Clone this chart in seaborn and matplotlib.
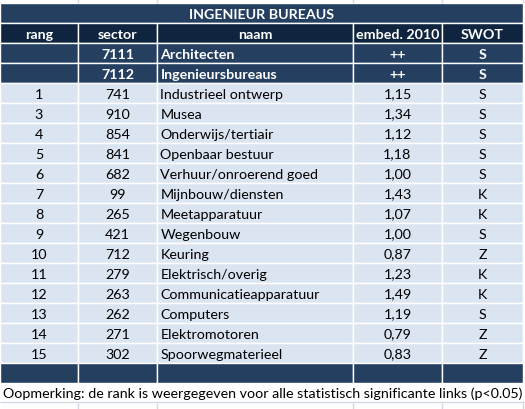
import matplotlib
matplotlib.use("Agg")
import matplotlib.pyplot as plt
import seaborn as sns

# table contents
title = "INGENIEUR BUREAUS"
headers = ["rang", "sector", "naam", "embed. 2010", "SWOT"]

top_sector = ["7111", "7112"]
top_naam = ["Architecten", "Ingenieursbureaus"]
top_embed = ["++", "++"]
top_swot = ["S", "S"]

rang = ["1", "3", "4", "5", "6", "7", "8", "9", "10", "11", "12", "13", "14", "15"]
sector = ["741", "910", "854", "841", "682", "99", "265", "421", "712", "279", "263", "262", "271", "302"]
naam = ["Industrieel ontwerp", "Musea", "Onderwijs/tertiair", "Openbaar bestuur",
        "Verhuur/onroerend goed", "Mijnbouw/diensten", "Meetapparatuur", "Wegenbouw",
        "Keuring", "Elektrisch/overig", "Communicatieapparatuur", "Computers",
        "Elektromotoren", "Spoorwegmaterieel"]
embed = ["1,15", "1,34", "1,12", "1,18", "1,00", "1,43", "1,07", "1,00",
         "0,87", "1,23", "1,49", "1,19", "0,79", "0,83"]
swot = ["S", "S", "S", "S", "S", "K", "K", "S", "Z", "K", "K", "S", "Z", "Z"]

note = "Oopmerking: de rank is weergegeven voor alle statistisch significante links (p<0.05)"

# layout / style
col_edges = [0, 78, 157, 353, 442, 523]
lefts = col_edges[:-1]
widths = [b - a for a, b in zip(col_edges[:-1], col_edges[1:])]
centers = [(a + b) / 2 for a, b in zip(col_edges[:-1], col_edges[1:])]
dark = "#243F60"
darker = "#0F243E"
light = "#DBE5F1"
grid = "#D0D7E5"
fs = 10.3

sns.set_theme(style="white")
plt.rcParams["font.family"] = ["Lato", "DejaVu Sans"]

fig = plt.figure(figsize=(5.25, 4.10), dpi=100)
ax = fig.add_axes([0, 0, 1, 1])
ax.set_xlim(0, 525)
ax.set_ylim(19.8, -0.7)
ax.axis("off")

# faint sheet gridlines above and below the table
ax.vlines(col_edges[1:], -0.7, -0.5, color=grid, lw=1)
ax.vlines(col_edges[1:], 19.5, 19.8, color=grid, lw=1)
ax.hlines(19.45, 0, 525, color=grid, lw=1)

# title row
ax.barh(0, col_edges[-1], left=0, height=1, color=dark, edgecolor="white", lw=1)
ax.text(col_edges[-1] / 2, 0.03, title, ha="center", va="center", color="white",
        fontsize=fs, fontweight="bold")

# header row
ax.barh([1] * 5, widths, left=lefts, height=1, color=darker, edgecolor="white", lw=1)
for x, h in zip(centers, headers):
    ax.text(x, 1.03, h, ha="center", va="center", color="white", fontsize=fs, fontweight="bold")

def draw_row(r, vals, color, tcolor, weight):
    ax.barh([r] * 5, widths, left=lefts, height=1, color=color, edgecolor="white", lw=1)
    for i, v in enumerate(vals):
        if i == 2:
            ax.text(col_edges[2] + 3.5, r + 0.03, v, ha="left", va="center", color=tcolor,
                    fontsize=fs, fontweight=weight)
        else:
            ax.text(centers[i], r + 0.03, v, ha="center", va="center", color=tcolor,
                    fontsize=fs, fontweight=weight)

for k in range(len(top_sector)):
    draw_row(2 + k, ["", top_sector[k], top_naam[k], top_embed[k], top_swot[k]],
             dark, "white", "bold")

for k in range(len(rang)):
    draw_row(4 + k, [rang[k], sector[k], naam[k], embed[k], swot[k]],
             light, "black", "normal")

# empty closing row
draw_row(4 + len(rang), [""] * 5, dark, "white", "bold")

ax.text(3, 5 + len(rang), note, ha="left", va="center", color="black", fontsize=fs)

fig.savefig("out.png", dpi=100)
